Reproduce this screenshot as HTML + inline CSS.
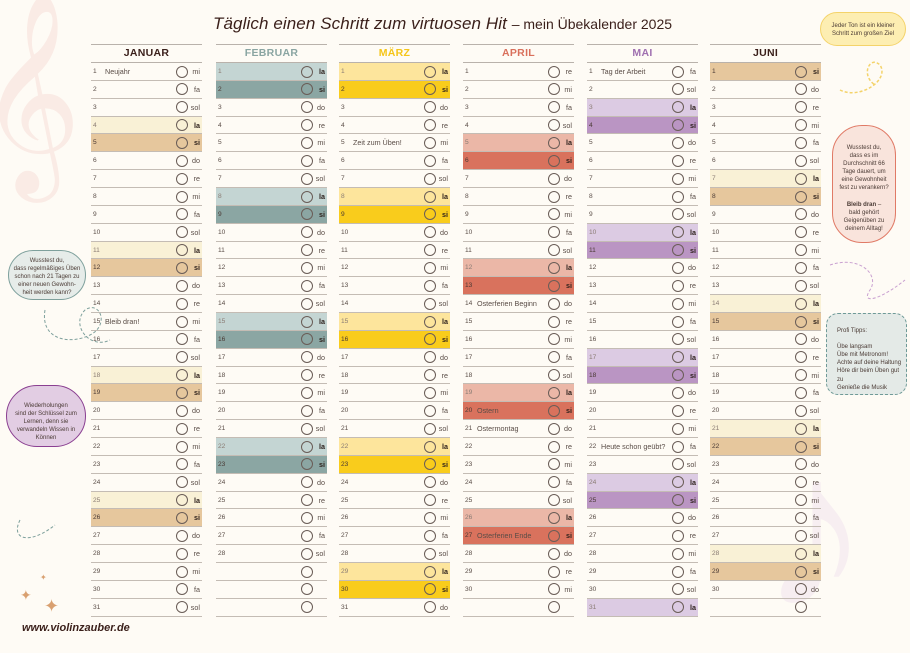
<!DOCTYPE html>
<html><head><meta charset="utf-8"><style>
*{margin:0;padding:0;box-sizing:border-box}
body{width:910px;height:642px;background:#fefbf5;position:relative;overflow:hidden;font-family:"Liberation Sans",sans-serif;color:#4a3a34}
.col{position:absolute;top:44px;width:111px}
.col h2{height:19px;border-top:1.5px solid #b9b2ab;border-bottom:1.5px solid #b9b2ab;font-size:10.5px;text-align:center;line-height:17px;font-weight:bold;letter-spacing:.3px}
.col p{height:17.86px;border-bottom:1.3px solid #c4bcb4;position:relative;font-size:7.2px;line-height:17px;color:#5a4d47}
.col p b{font-weight:normal;position:absolute;left:2px;font-size:6.6px}
.col p em{font-style:normal;position:absolute;left:14px}
.col p i{position:absolute;left:85px;top:2.5px;width:12px;height:12px;border:1px solid #6a5d57;border-radius:50%}
.col p u{text-decoration:none;position:absolute;right:2px}
.col p.a u,.col p.s u{font-weight:bold;color:#2e211c}
.col p.a b{color:#8a7c74}
.col p.s b{color:#4a3a34}
.j .a,.n .a{background:#f9f1d6}.j .s,.n .s{background:#e6c79d}
.f .a{background:#c4d5d3}.f .s{background:#8ba6a3}
.m .a{background:#fde59c}.m .s{background:#f9cc1c}
.ap .a{background:#ebb7a7}.ap .s{background:#d9725d}
.my .a{background:#dccbe3}.my .s{background:#ba95c3}
.cl{position:absolute;font-size:6px;text-align:center;line-height:1.35;color:#4a3a34}
</style></head><body>
<div style="position:absolute;left:-22px;top:5px;font-size:175px;color:#faebe5;line-height:1">𝄞</div>
<div style="position:absolute;left:760px;top:420px;font-size:220px;color:#f7eef1;line-height:1">♪</div>
<div style="position:absolute;left:213px;top:14px;font-size:17px;color:#3a1f1a;white-space:nowrap"><span style="font-style:italic;letter-spacing:.1px">Täglich einen Schritt zum virtuosen Hit</span> <span style="font-size:14px">– mein Übekalender 2025</span></div>
<div style="position:absolute;left:22px;top:622px;font-size:11px;font-weight:bold;font-style:italic;color:#3a1f1a">www.violinzauber.de</div>

<div class="cl" style="left:8px;top:250px;width:78px;height:50px;background:#e6ece9;border:1.5px solid #7ea09c;border-radius:30px;padding-top:6px">Wusstest du,<br>dass regelmäßiges Üben<br>schon nach 21 Tagen zu<br>einer neuen Gewohn-<br>heit werden kann?</div>
<div class="cl" style="left:6px;top:385px;width:80px;height:62px;background:#e2cde3;border:1.8px solid #8a3f91;border-radius:32px;padding-top:16px">Wiederholungen<br>sind der Schlüssel zum<br>Lernen, denn sie<br>verwandeln Wissen in<br>Können</div>
<div class="cl" style="left:820px;top:12px;width:86px;height:34px;background:#fdeeb2;border:1.5px solid #f4d36a;border-radius:18px;padding-top:9px">Jeder Ton ist ein kleiner<br>Schritt zum großen Ziel</div>
<div class="cl" style="left:832px;top:125px;width:64px;height:118px;background:#f9e4dc;border:1.5px solid #e07a66;border-radius:30px;padding-top:18px">Wusstest du,<br>dass es im<br>Durchschnitt 66<br>Tage dauert, um<br>eine Gewohnheit<br>fest zu verankern?<br><br><b>Bleib dran</b> –<br>bald gehört<br>Geigenüben zu<br>deinem Alltag!</div>
<div class="cl" style="left:826px;top:313px;width:81px;height:82px;background:#e4eae7;border:1.5px dashed #6f9a97;border-radius:12px;padding:13px 0 0 10px;text-align:left">Profi Tipps:<br><br>Übe langsam<br>Übe mit Metronom!<br>Achte auf deine Haltung<br>Höre dir beim Üben gut zu<br>Genieße die Musik</div>

<div class="col j" style="left:91px"><h2 style="color:#3a1f1a">JANUAR</h2>
<p><b>1</b><em>Neujahr</em><i></i><u>mi</u></p><p><b>2</b><i></i><u>fa</u></p><p><b>3</b><i></i><u>sol</u></p><p class=a><b>4</b><i></i><u>la</u></p><p class=s><b>5</b><i></i><u>si</u></p><p><b>6</b><i></i><u>do</u></p><p><b>7</b><i></i><u>re</u></p><p><b>8</b><i></i><u>mi</u></p><p><b>9</b><i></i><u>fa</u></p><p><b>10</b><i></i><u>sol</u></p><p class=a><b>11</b><i></i><u>la</u></p><p class=s><b>12</b><i></i><u>si</u></p><p><b>13</b><i></i><u>do</u></p><p><b>14</b><i></i><u>re</u></p><p><b>15</b><em>Bleib dran!</em><i></i><u>mi</u></p><p><b>16</b><i></i><u>fa</u></p><p><b>17</b><i></i><u>sol</u></p><p class=a><b>18</b><i></i><u>la</u></p><p class=s><b>19</b><i></i><u>si</u></p><p><b>20</b><i></i><u>do</u></p><p><b>21</b><i></i><u>re</u></p><p><b>22</b><i></i><u>mi</u></p><p><b>23</b><i></i><u>fa</u></p><p><b>24</b><i></i><u>sol</u></p><p class=a><b>25</b><i></i><u>la</u></p><p class=s><b>26</b><i></i><u>si</u></p><p><b>27</b><i></i><u>do</u></p><p><b>28</b><i></i><u>re</u></p><p><b>29</b><i></i><u>mi</u></p><p><b>30</b><i></i><u>fa</u></p><p><b>31</b><i></i><u>sol</u></p></div>

<div class="col f" style="left:216px"><h2 style="color:#8aa5a2">FEBRUAR</h2>
<p class=a><b>1</b><i></i><u>la</u></p><p class=s><b>2</b><i></i><u>si</u></p><p><b>3</b><i></i><u>do</u></p><p><b>4</b><i></i><u>re</u></p><p><b>5</b><i></i><u>mi</u></p><p><b>6</b><i></i><u>fa</u></p><p><b>7</b><i></i><u>sol</u></p><p class=a><b>8</b><i></i><u>la</u></p><p class=s><b>9</b><i></i><u>si</u></p><p><b>10</b><i></i><u>do</u></p><p><b>11</b><i></i><u>re</u></p><p><b>12</b><i></i><u>mi</u></p><p><b>13</b><i></i><u>fa</u></p><p><b>14</b><i></i><u>sol</u></p><p class=a><b>15</b><i></i><u>la</u></p><p class=s><b>16</b><i></i><u>si</u></p><p><b>17</b><i></i><u>do</u></p><p><b>18</b><i></i><u>re</u></p><p><b>19</b><i></i><u>mi</u></p><p><b>20</b><i></i><u>fa</u></p><p><b>21</b><i></i><u>sol</u></p><p class=a><b>22</b><i></i><u>la</u></p><p class=s><b>23</b><i></i><u>si</u></p><p><b>24</b><i></i><u>do</u></p><p><b>25</b><i></i><u>re</u></p><p><b>26</b><i></i><u>mi</u></p><p><b>27</b><i></i><u>fa</u></p><p><b>28</b><i></i><u>sol</u></p><p><i></i></p><p><i></i></p><p><i></i></p></div>

<div class="col m" style="left:339px"><h2 style="color:#f5c518">MÄRZ</h2>
<p class=a><b>1</b><i></i><u>la</u></p><p class=s><b>2</b><i></i><u>si</u></p><p><b>3</b><i></i><u>do</u></p><p><b>4</b><i></i><u>re</u></p><p><b>5</b><em>Zeit zum Üben!</em><i></i><u>mi</u></p><p><b>6</b><i></i><u>fa</u></p><p><b>7</b><i></i><u>sol</u></p><p class=a><b>8</b><i></i><u>la</u></p><p class=s><b>9</b><i></i><u>si</u></p><p><b>10</b><i></i><u>do</u></p><p><b>11</b><i></i><u>re</u></p><p><b>12</b><i></i><u>mi</u></p><p><b>13</b><i></i><u>fa</u></p><p><b>14</b><i></i><u>sol</u></p><p class=a><b>15</b><i></i><u>la</u></p><p class=s><b>16</b><i></i><u>si</u></p><p><b>17</b><i></i><u>do</u></p><p><b>18</b><i></i><u>re</u></p><p><b>19</b><i></i><u>mi</u></p><p><b>20</b><i></i><u>fa</u></p><p><b>21</b><i></i><u>sol</u></p><p class=a><b>22</b><i></i><u>la</u></p><p class=s><b>23</b><i></i><u>si</u></p><p><b>24</b><i></i><u>do</u></p><p><b>25</b><i></i><u>re</u></p><p><b>26</b><i></i><u>mi</u></p><p><b>27</b><i></i><u>fa</u></p><p><b>28</b><i></i><u>sol</u></p><p class=a><b>29</b><i></i><u>la</u></p><p class=s><b>30</b><i></i><u>si</u></p><p><b>31</b><i></i><u>do</u></p></div>

<div class="col ap" style="left:463px"><h2 style="color:#d9705c">APRIL</h2>
<p><b>1</b><i></i><u>re</u></p><p><b>2</b><i></i><u>mi</u></p><p><b>3</b><i></i><u>fa</u></p><p><b>4</b><i></i><u>sol</u></p><p class=a><b>5</b><i></i><u>la</u></p><p class=s><b>6</b><i></i><u>si</u></p><p><b>7</b><i></i><u>do</u></p><p><b>8</b><i></i><u>re</u></p><p><b>9</b><i></i><u>mi</u></p><p><b>10</b><i></i><u>fa</u></p><p><b>11</b><i></i><u>sol</u></p><p class=a><b>12</b><i></i><u>la</u></p><p class=s><b>13</b><i></i><u>si</u></p><p><b>14</b><em>Osterferien Beginn</em><i></i><u>do</u></p><p><b>15</b><i></i><u>re</u></p><p><b>16</b><i></i><u>mi</u></p><p><b>17</b><i></i><u>fa</u></p><p><b>18</b><i></i><u>sol</u></p><p class=a><b>19</b><i></i><u>la</u></p><p class=s><b>20</b><em>Ostern</em><i></i><u>si</u></p><p><b>21</b><em>Ostermontag</em><i></i><u>do</u></p><p><b>22</b><i></i><u>re</u></p><p><b>23</b><i></i><u>mi</u></p><p><b>24</b><i></i><u>fa</u></p><p><b>25</b><i></i><u>sol</u></p><p class=a><b>26</b><i></i><u>la</u></p><p class=s><b>27</b><em>Osterferien Ende</em><i></i><u>si</u></p><p><b>28</b><i></i><u>do</u></p><p><b>29</b><i></i><u>re</u></p><p><b>30</b><i></i><u>mi</u></p><p><i></i></p></div>

<div class="col my" style="left:587px"><h2 style="color:#a070b0">MAI</h2>
<p><b>1</b><em>Tag der Arbeit</em><i></i><u>fa</u></p><p><b>2</b><i></i><u>sol</u></p><p class=a><b>3</b><i></i><u>la</u></p><p class=s><b>4</b><i></i><u>si</u></p><p><b>5</b><i></i><u>do</u></p><p><b>6</b><i></i><u>re</u></p><p><b>7</b><i></i><u>mi</u></p><p><b>8</b><i></i><u>fa</u></p><p><b>9</b><i></i><u>sol</u></p><p class=a><b>10</b><i></i><u>la</u></p><p class=s><b>11</b><i></i><u>si</u></p><p><b>12</b><i></i><u>do</u></p><p><b>13</b><i></i><u>re</u></p><p><b>14</b><i></i><u>mi</u></p><p><b>15</b><i></i><u>fa</u></p><p><b>16</b><i></i><u>sol</u></p><p class=a><b>17</b><i></i><u>la</u></p><p class=s><b>18</b><i></i><u>si</u></p><p><b>19</b><i></i><u>do</u></p><p><b>20</b><i></i><u>re</u></p><p><b>21</b><i></i><u>mi</u></p><p><b>22</b><em>Heute schon geübt?</em><i></i><u>fa</u></p><p><b>23</b><i></i><u>sol</u></p><p class=a><b>24</b><i></i><u>la</u></p><p class=s><b>25</b><i></i><u>si</u></p><p><b>26</b><i></i><u>do</u></p><p><b>27</b><i></i><u>re</u></p><p><b>28</b><i></i><u>mi</u></p><p><b>29</b><i></i><u>fa</u></p><p><b>30</b><i></i><u>sol</u></p><p class=a><b>31</b><i></i><u>la</u></p></div>

<div class="col n" style="left:710px"><h2 style="color:#3a1f1a">JUNI</h2>
<p class=s><b>1</b><i></i><u>si</u></p><p><b>2</b><i></i><u>do</u></p><p><b>3</b><i></i><u>re</u></p><p><b>4</b><i></i><u>mi</u></p><p><b>5</b><i></i><u>fa</u></p><p><b>6</b><i></i><u>sol</u></p><p class=a><b>7</b><i></i><u>la</u></p><p class=s><b>8</b><i></i><u>si</u></p><p><b>9</b><i></i><u>do</u></p><p><b>10</b><i></i><u>re</u></p><p><b>11</b><i></i><u>mi</u></p><p><b>12</b><i></i><u>fa</u></p><p><b>13</b><i></i><u>sol</u></p><p class=a><b>14</b><i></i><u>la</u></p><p class=s><b>15</b><i></i><u>si</u></p><p><b>16</b><i></i><u>do</u></p><p><b>17</b><i></i><u>re</u></p><p><b>18</b><i></i><u>mi</u></p><p><b>19</b><i></i><u>fa</u></p><p><b>20</b><i></i><u>sol</u></p><p class=a><b>21</b><i></i><u>la</u></p><p class=s><b>22</b><i></i><u>si</u></p><p><b>23</b><i></i><u>do</u></p><p><b>24</b><i></i><u>re</u></p><p><b>25</b><i></i><u>mi</u></p><p><b>26</b><i></i><u>fa</u></p><p><b>27</b><i></i><u>sol</u></p><p class=a><b>28</b><i></i><u>la</u></p><p class=s><b>29</b><i></i><u>si</u></p><p><b>30</b><i></i><u>do</u></p><p><i></i></p></div>

<svg style="position:absolute;left:0;top:0" width="910" height="642">
<path d="M45 310 C40 340 70 345 90 335 C110 325 100 300 85 310 C70 325 90 350 110 340" fill="none" stroke="#7ea09c" stroke-width="1" stroke-dasharray="3,2"/>
<path d="M840 90 C860 100 890 80 880 65 C870 55 860 75 875 85" fill="none" stroke="#f4d36a" stroke-width="1.5" stroke-dasharray="3,2"/>
<path d="M830 265 C860 255 880 275 870 290 C860 305 880 300 905 280" fill="none" stroke="#c9a0d0" stroke-width="1" stroke-dasharray="3,2"/>
<path d="M20 520 C10 540 30 545 55 525" fill="none" stroke="#7ea09c" stroke-width="1" stroke-dasharray="3,2"/>
<text x="20" y="600" font-size="14" fill="#d9a070">✦</text><text x="44" y="612" font-size="18" fill="#d9a070">✦</text><text x="40" y="580" font-size="8" fill="#d9a070">✦</text>
</svg>
</body></html>
